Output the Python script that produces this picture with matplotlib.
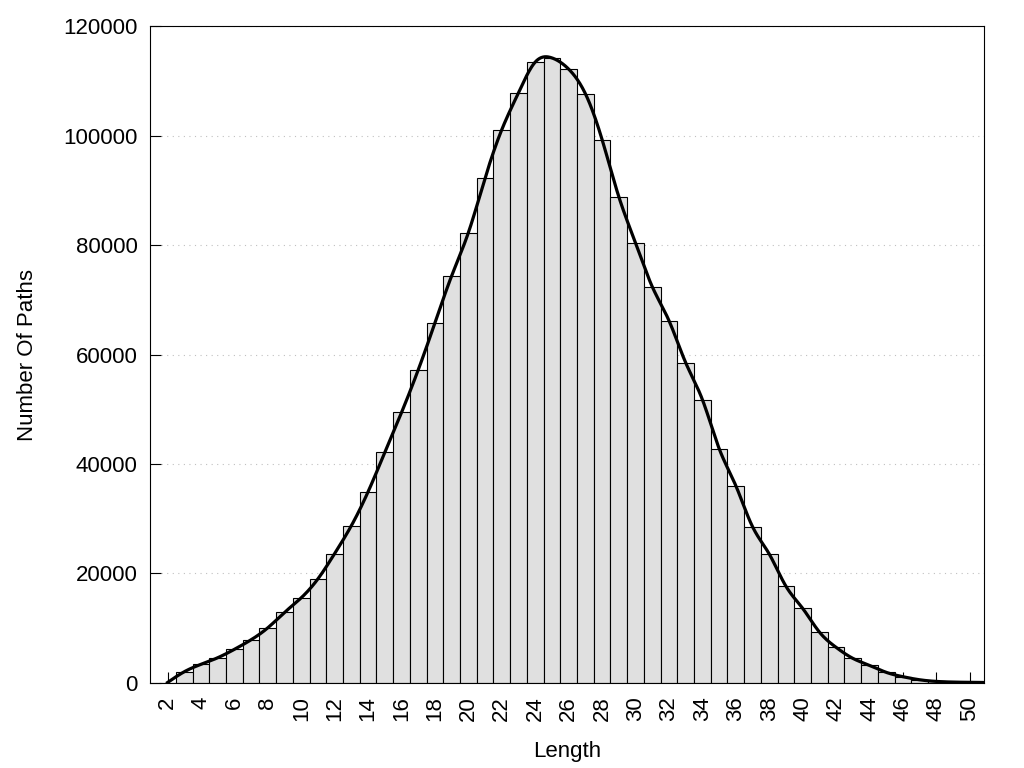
import numpy as np
import matplotlib
matplotlib.use('Agg')
import matplotlib.pyplot as plt

plt.rcParams['font.family'] = ['Liberation Sans', 'DejaVu Sans']

# Data
lengths = list(range(2, 52))
paths = [0, 1970, 3330, 4530, 6070, 7820, 10010, 12830, 15500, 18970,
         23600, 28700, 34900, 42100, 49400, 57200, 65800, 74400, 82300, 92300,
         101150, 107900, 113500, 114250, 112200, 107700, 99300, 88850, 80400, 72400,
         66200, 58500, 51750, 42800, 36000, 28500, 23500, 17600, 13560, 9230,
         6430, 4420, 3140, 1860, 1060, 500, 200, 80, 30, 0]
x_ticks = list(range(2, 51, 2))
y_ticks = [0, 20000, 40000, 60000, 80000, 100000, 120000]


def natural_spline(x, y, n=1000):
    # natural cubic spline through the points (like gnuplot "smooth csplines")
    x = np.asarray(x, float)
    y = np.asarray(y, float)
    m = len(x)
    h = np.diff(x)
    A = np.zeros((m, m))
    b = np.zeros(m)
    A[0, 0] = A[-1, -1] = 1
    for i in range(1, m - 1):
        A[i, i - 1] = h[i - 1]
        A[i, i] = 2 * (h[i - 1] + h[i])
        A[i, i + 1] = h[i]
        b[i] = 3 * ((y[i + 1] - y[i]) / h[i] - (y[i] - y[i - 1]) / h[i - 1])
    c = np.linalg.solve(A, b)
    xs = np.linspace(x[0], x[-1], n)
    idx = np.clip(np.searchsorted(x, xs) - 1, 0, m - 2)
    dx = xs - x[idx]
    bb = (y[idx + 1] - y[idx]) / h[idx] - h[idx] * (2 * c[idx] + c[idx + 1]) / 3
    dd = (c[idx + 1] - c[idx]) / (3 * h[idx])
    ys = y[idx] + bb * dx + c[idx] * dx ** 2 + dd * dx ** 3
    return xs, ys


fig = plt.figure(figsize=(10.24, 7.68), dpi=100)
ax = fig.add_axes([0.1468, 0.1113, 0.8145, 0.8542])

ax.bar(lengths, paths, width=1.0, color='#e0e0e0', edgecolor='black',
       linewidth=0.8, zorder=2)

xs, ys = natural_spline(lengths, paths)
ax.plot(xs, ys, color='black', linewidth=2.3, zorder=3)

ax.set_xlim(0.97, 50.87)
ax.set_ylim(0, 120000)
ax.set_xticks(x_ticks)
ax.set_yticks(y_ticks)
ax.set_xticklabels([str(t) for t in x_ticks], rotation=90, fontsize=16)
ax.set_yticklabels([str(t) for t in y_ticks], fontsize=16)
ax.tick_params(axis='both', direction='in', length=7.7, width=0.8)
ax.tick_params(axis='x', pad=10)
ax.tick_params(axis='y', pad=9)

ax.yaxis.grid(True, linestyle=(0, (1, 4)), color='#c0c0c0', linewidth=0.8, zorder=0)
ax.set_axisbelow(True)
for s in ax.spines.values():
    s.set_linewidth(0.8)

ax.set_xlabel('Length', fontsize=16, labelpad=14)
ax.set_ylabel('Number Of Paths', fontsize=16, labelpad=18)

fig.savefig('out.png', dpi=100)
